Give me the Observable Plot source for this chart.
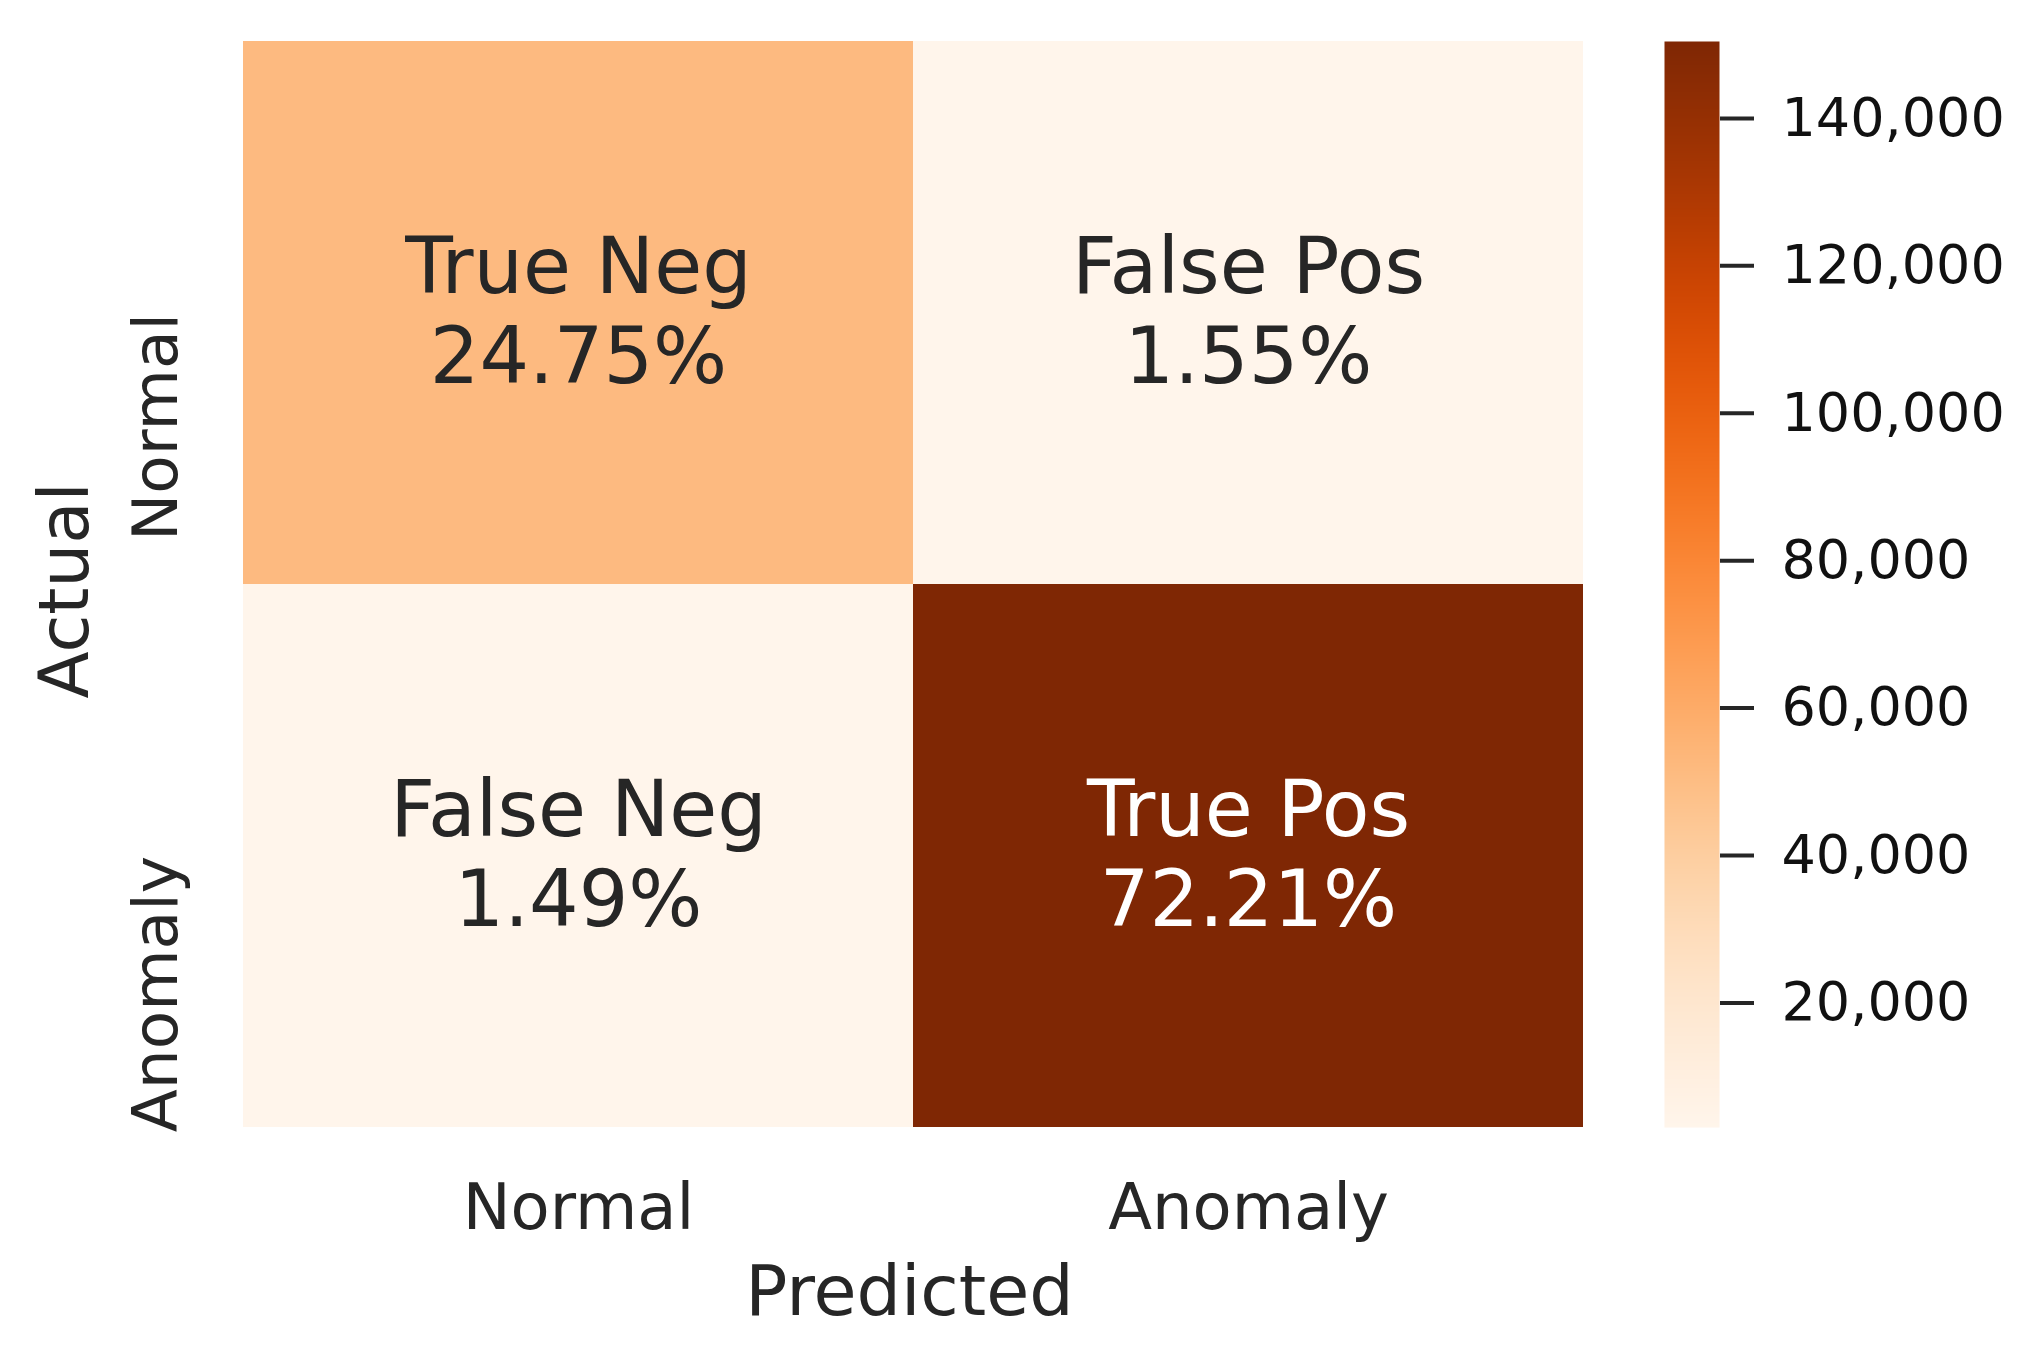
<!DOCTYPE html>
<html>
<head>
<meta charset="utf-8">
<script src="https://cdn.jsdelivr.net/npm/d3@7"></script>
<script src="https://cdn.jsdelivr.net/npm/@observablehq/plot@0.6"></script>
<style>
  html, body { margin: 0; padding: 0; background: white; }
  #wrap { position: relative; width: 2034px; height: 1358px; overflow: hidden; background: white; }
  #wrap svg { position: absolute; top: 0; }
</style>
</head>
<body>
<div id="wrap"></div>
<script>
// ---- data ----
const categories = ["Normal", "Anomaly"];
const actual = ["Normal", "Normal", "Anomaly", "Anomaly"];
const predicted = ["Normal", "Anomaly", "Normal", "Anomaly"];
const cellNames = ["True Neg", "False Pos", "False Neg", "True Pos"];
const counts = [51560, 3229, 3104, 150430];
const percents = [24.75, 1.55, 1.49, 72.21];
const colorbarTicks = [20000, 40000, 60000, 80000, 100000, 120000, 140000];

const rows = counts.map((c, i) => ({
  actual: actual[i], predicted: predicted[i], name: cellNames[i], count: c, pct: percents[i]
}));
const cMin = d3.min(counts), cMax = d3.max(counts);
const font = "DejaVu Sans";
const ink = "#262626";

const main = Plot.plot({
  width: 2034, height: 1358,
  marginLeft: 243, marginRight: 451, marginTop: 41, marginBottom: 231,
  style: {fontFamily: font, color: ink, background: "transparent"},
  x: {domain: categories, padding: 0},
  y: {domain: categories, padding: 0},
  color: {type: "linear", scheme: "oranges", domain: [cMin, cMax]},
  marks: [
    Plot.cell(rows, {x: "predicted", y: "actual", fill: "count"}),
    Plot.text(rows, {
      x: "predicted", y: "actual",
      text: d => `${d.name}\n${d.pct.toFixed(2)}%`,
      fontSize: 78, lineHeight: 1.15, dy: -4,
      fill: d => d.count > (cMin + cMax) / 2 ? "white" : ink
    }),
    Plot.axisX({anchor: "bottom", tickSize: 0, tickPadding: 56, fontSize: 64, label: null}),
    Plot.axisY({anchor: "left", tickSize: 0, tickPadding: 87, fontSize: 63, tickRotate: -90,
      textAnchor: "end", lineAnchor: "middle", label: null}),
    Plot.text(["Predicted"], {text: d => d, frameAnchor: "bottom", dy: 187, dx: -4, fontSize: 70, fill: ink}),
    Plot.text(["Actual"], {text: d => d, frameAnchor: "left", textAnchor: "middle", dx: -178, dy: 6,
      rotate: -90, fontSize: 69, fill: ink})
  ]
});
main.style.left = "0px";

const bar = Plot.plot({
  width: 370, height: 1358,
  marginLeft: 0, marginRight: 315, marginTop: 41, marginBottom: 231,
  style: {fontFamily: font, color: ink, background: "transparent"},
  x: {domain: [0, 1], axis: null},
  y: {domain: [cMin, cMax]},
  color: {type: "linear", scheme: "oranges", domain: [cMin, cMax]},
  marks: [
    Plot.raster({x1: 0, x2: 1, y1: cMin, y2: cMax, fill: (x, y) => y}),
    Plot.axisY({anchor: "right", ticks: colorbarTicks, tickFormat: d3.format(","),
      tickSize: 34, tickPadding: 28, fontSize: 54, strokeWidth: 4, stroke: ink, fill: "#111", label: null})
  ]
});
bar.style.left = "1664px";

const wrap = document.getElementById("wrap");
wrap.appendChild(main);
wrap.appendChild(bar);
</script>
</body>
</html>
